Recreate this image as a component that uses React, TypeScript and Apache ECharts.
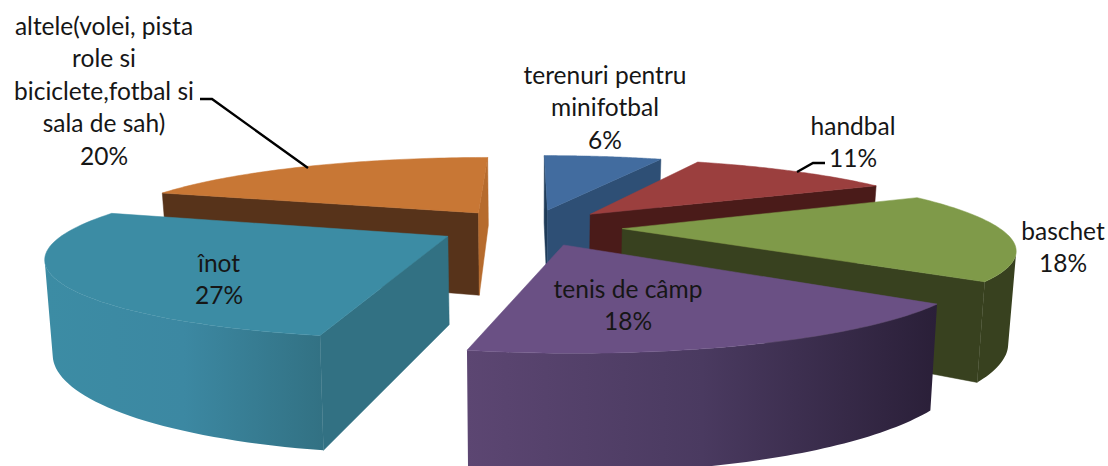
import React, { useEffect, useRef } from "react";
import * as echarts from "echarts";

const categories = ["terenuri pentru\nminifotbal", "handbal", "baschet", "tenis de câmp", "înot", "altele(volei, pista\nrole si\nbiciclete,fotbal si\nsala de sah)"];
const sliceValues = [6.4, 11.0, 18.1, 17.8, 26.8, 19.9];
const drawOrder = [0, 1, 5, 2, 4, 3];

const topColors = ["#426c9f", "#9b3f3e", "#7f9a49", "#6a5084", "#3c8ca4", "#c87735"];
const startWallColors = ["#1f3b58", "#4a1b19", "#38411f", "#524064", "#327183", "#57331a"];
const endWallColors = ["#2e4f75", "#4a1b19", "#38411f", "#524064", "#327183", "#b66b2d"];
const rimFrom = ["#2e4f75", "#4a1b19", "#38411f", "#5c4672", "#3c8ca4", "#57331a"];
const rimMid = ["#2e4f75", "#4a1b19", "#38411f", "#4a3a60", "#3c88a2", "#57331a"];
const rimTo = ["#2e4f75", "#4a1b19", "#38411f", "#2a1f38", "#327183", "#57331a"];

const labelCenters = [[605, 58], [853, 109], [1063, 214], [628, 272], [219, 246], [104, 9]];

const CX = 530, HORIZON = -97, TOP_H = 324, THICK = 86, RADIUS = 376, PERSP = 0.228, EXPLODE = 0.245, BOTTOM_X = 0.9835;

const total = sliceValues.reduce((a, b) => a + b, 0);

function project(X: number, Y: number, bottom: boolean): number[] {
  const w = 1 / (1 - PERSP * Y);
  const xs = bottom ? BOTTOM_X : 1;
  return [CX + X * RADIUS * w * xs, HORIZON + (TOP_H + (bottom ? THICK : 0)) * w];
}

function renderSlice(_: any, api: any) {
  const i = api.value(0);
  let cum = 0;
  for (let k = 0; k < i; k++) cum += sliceValues[k];
  const a0 = (cum / total) * Math.PI * 2;
  const a1 = ((cum + sliceValues[i]) / total) * Math.PI * 2;
  const mid = (a0 + a1) / 2;
  const ex = Math.sin(mid) * EXPLODE, ey = -Math.cos(mid) * EXPLODE;
  const cam = 1 / PERSP;
  const steps = 60;
  const pts: number[][] = [];
  for (let s = 0; s <= steps; s++) {
    const a = a0 + ((a1 - a0) * s) / steps;
    pts.push([Math.sin(a) + ex, -Math.cos(a) + ey, a]);
  }
  const children: any[] = [];
  const poly = (points: number[][], fill: any) => ({
    type: "polygon",
    shape: { points },
    style: { fill, stroke: typeof fill === "string" ? fill : undefined, lineWidth: typeof fill === "string" ? 0.5 : 0 },
  });
  const wall = (a: number, sign: number, color: string) => {
    const nx = sign * Math.cos(a), ny = sign * Math.sin(a);
    if (-ex * nx + (cam - ey) * ny <= 0) return;
    const rx = Math.sin(a) + ex, ry = -Math.cos(a) + ey;
    children.push(poly([project(ex, ey, false), project(rx, ry, false), project(rx, ry, true), project(ex, ey, true)], color));
  };
  wall(a0, -1, startWallColors[i]);
  wall(a1, 1, endWallColors[i]);
  const vis = pts.filter((p) => {
    const nx = Math.sin(p[2]), ny = -Math.cos(p[2]);
    return -p[0] * nx + (cam - p[1]) * ny > 0;
  });
  if (vis.length > 1) {
    const up = vis.map((p) => project(p[0], p[1], false));
    const down = vis.map((p) => project(p[0], p[1], true)).reverse();
    children.push(
      poly(
        up.concat(down),
        new echarts.graphic.LinearGradient(0, 0, 1, 0, [
          { offset: 0, color: rimFrom[i] },
          { offset: 0.5, color: rimMid[i] },
          { offset: 1, color: rimTo[i] },
        ])
      )
    );
  }
  children.push(poly([project(ex, ey, false)].concat(pts.map((p) => project(p[0], p[1], false))), topColors[i]));
  return { type: "group", children };
}

export default function App() {
  const ref = useRef<HTMLDivElement>(null);
  useEffect(() => {
    document.body.style.margin = "0";
    document.body.style.overflow = "hidden";
    const chart = echarts.init(ref.current!, null, { renderer: "svg" });
    const labels = categories.map((c, i) => ({
      type: "text",
      x: labelCenters[i][0],
      y: labelCenters[i][1],
      z: 50,
      style: {
        text: `${c}\n${Math.round(sliceValues[i])}%`,
        fontFamily: "Lato",
        fontSize: 24.5,
        lineHeight: 32.5,
        fill: "#161616",
        textAlign: "center",
        textVerticalAlign: "top",
      },
    }));
    chart.setOption({
      animation: false,
      backgroundColor: "#ffffff",
      series: [
        {
          type: "custom",
          coordinateSystem: "none",
          silent: true,
          clip: false,
          renderItem: renderSlice,
          data: drawOrder.map((d) => ({ name: categories[d], value: [d, sliceValues[d]] })),
        },
      ],
      graphic: [
        ...labels,
        { type: "polyline", z: 49, shape: { points: [[200, 99], [212, 99], [308, 168]] }, style: { stroke: "#000", lineWidth: 2.4, fill: "none" } },
        { type: "polyline", z: 49, shape: { points: [[825, 163], [813, 163], [797, 172]] }, style: { stroke: "#000", lineWidth: 2.4, fill: "none" } },
      ],
    });
    return () => chart.dispose();
  }, []);
  return <div ref={ref} style={{ width: 1108, height: 466, overflow: "hidden" }} />;
}
